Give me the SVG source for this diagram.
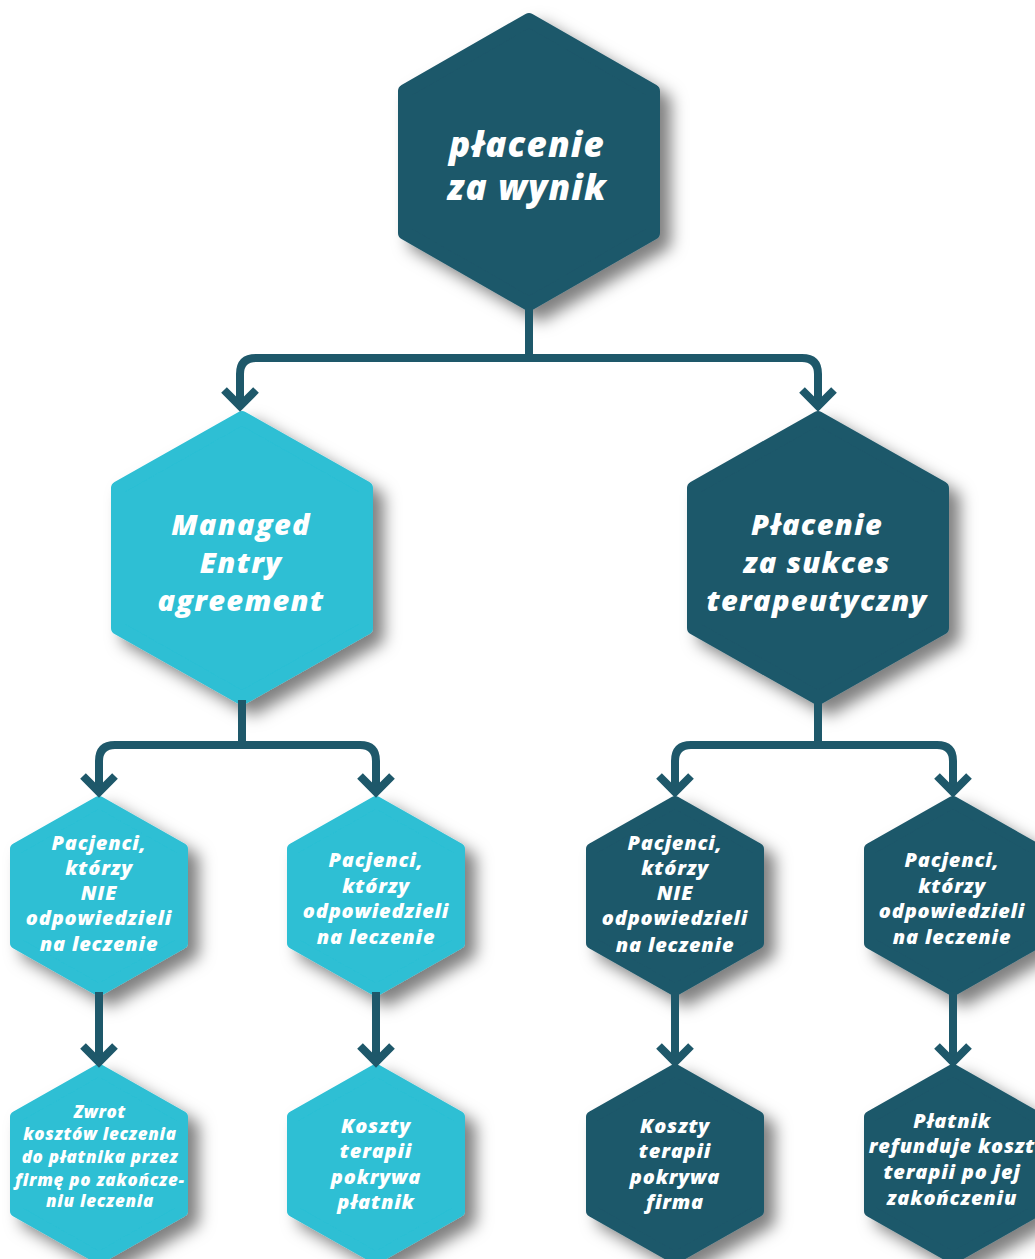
<svg xmlns="http://www.w3.org/2000/svg" width="1035" height="1259" viewBox="0 0 1035 1259">
<defs>
<filter id="sh" x="-20%" y="-20%" width="150%" height="150%">
<feDropShadow dx="11" dy="10" stdDeviation="8" flood-color="#000" flood-opacity="0.5"/>
</filter>
<style>
.dark{fill:#1e586a;stroke:#1e586a;stroke-width:14;stroke-linejoin:round;filter:url(#sh)}
.light{fill:#2dbfd4;stroke:#2dbfd4;stroke-width:14;stroke-linejoin:round;filter:url(#sh)}
.sm{stroke-width:12}
.t{fill:#fff;font-family:"Open Sans","DejaVu Sans",sans-serif;font-weight:800;font-style:italic;text-anchor:middle}
.t1{font-size:35px;letter-spacing:1.2px}
.t2{font-size:29px;letter-spacing:1.3px}
.t3{font-size:20px;letter-spacing:0.8px}
.t4{font-size:17px;letter-spacing:0.7px}
.c{fill:none;stroke:#1e586a;stroke-width:8}
.ar{fill:none;stroke:#1e586a;stroke-width:8;stroke-linejoin:miter}
</style>
</defs>
<rect width="1035" height="1259" fill="#fff"/>
<g id="n-top">
<polygon class="dark" points="529,20 653,91 653,233 529,304 405,233 405,91"/>
<text class="t t1" x="527" y="157">płacenie</text>
<text class="t t1" x="527" y="200">za wynik</text>
</g>
<g id="n-mea">
<polygon class="light" points="242,418 366,488 366,628 242,698 118,628 118,488"/>
<text class="t t2" x="241" y="535">Managed</text>
<text class="t t2" x="241" y="573">Entry</text>
<text class="t t2" x="241" y="611">agreement</text>
</g>
<g id="n-sukces">
<polygon class="dark" points="818,418 942,488 942,628 818,698 694,628 694,488"/>
<text class="t t2" x="817" y="535">Płacenie</text>
<text class="t t2" x="817" y="573">za sukces</text>
<text class="t t2" x="817" y="611">terapeutyczny</text>
</g>
<g id="n-l1">
<polygon class="light sm" points="99,802 182,849 182,943 99,990 16,943 16,849"/>
<text class="t t3" x="99" y="850">Pacjenci,</text>
<text class="t t3" x="99" y="875">którzy</text>
<text class="t t3" x="99" y="900">NIE</text>
<text class="t t3" x="99" y="925">odpowiedzieli</text>
<text class="t t3" x="99" y="951">na leczenie</text>
</g>
<g id="n-l2">
<polygon class="light sm" points="376,802 459,849 459,943 376,990 293,943 293,849"/>
<text class="t t3" x="376" y="867">Pacjenci,</text>
<text class="t t3" x="376" y="893">którzy</text>
<text class="t t3" x="376" y="918">odpowiedzieli</text>
<text class="t t3" x="376" y="944">na leczenie</text>
</g>
<g id="n-r1">
<polygon class="dark sm" points="675,802 758,849 758,943 675,990 592,943 592,849"/>
<text class="t t3" x="675" y="850">Pacjenci,</text>
<text class="t t3" x="675" y="875">którzy</text>
<text class="t t3" x="675" y="900">NIE</text>
<text class="t t3" x="675" y="925">odpowiedzieli</text>
<text class="t t3" x="675" y="952">na leczenie</text>
</g>
<g id="n-r2">
<polygon class="dark sm" points="953,802 1036,849 1036,943 953,990 870,943 870,849"/>
<text class="t t3" x="952" y="867">Pacjenci,</text>
<text class="t t3" x="952" y="893">którzy</text>
<text class="t t3" x="952" y="918">odpowiedzieli</text>
<text class="t t3" x="952" y="944">na leczenie</text>
</g>
<g id="n-b1">
<polygon class="light sm" points="99,1070 182,1117 182,1211 99,1258 16,1211 16,1117"/>
<text class="t t4" x="100" y="1118">Zwrot</text>
<text class="t t4" x="100" y="1140">kosztów leczenia</text>
<text class="t t4" x="100" y="1163">do płatnika przez</text>
<text class="t t4" x="100" y="1186">firmę po zakończe-</text>
<text class="t t4" x="100" y="1207">niu leczenia</text>
</g>
<g id="n-b2">
<polygon class="light sm" points="376,1070 459,1117 459,1211 376,1258 293,1211 293,1117"/>
<text class="t t3" x="376" y="1133">Koszty</text>
<text class="t t3" x="376" y="1158">terapii</text>
<text class="t t3" x="376" y="1184">pokrywa</text>
<text class="t t3" x="376" y="1209">płatnik</text>
</g>
<g id="n-b3">
<polygon class="dark sm" points="675,1070 758,1117 758,1211 675,1258 592,1211 592,1117"/>
<text class="t t3" x="675" y="1133">Koszty</text>
<text class="t t3" x="675" y="1158">terapii</text>
<text class="t t3" x="675" y="1184">pokrywa</text>
<text class="t t3" x="675" y="1209">firma</text>
</g>
<g id="n-b4">
<polygon class="dark sm" points="953,1070 1036,1117 1036,1211 953,1258 870,1211 870,1117"/>
<text class="t t3" x="952" y="1128">Płatnik</text>
<text class="t t3" x="952" y="1153">refunduje koszt</text>
<text class="t t3" x="952" y="1179">terapii po jej</text>
<text class="t t3" x="952" y="1205">zakończeniu</text>
</g>
<g id="connectors">
<path class="c" d="M529,308 V358 M240,402 V374 Q240,358 256,358 H802 Q818,358 818,374 V402"/>
<path class="ar" d="M224,390 L240,406 L256,390 M802,390 L818,406 L834,390"/>
<path class="c" d="M242,700 V745 M99,788 V761 Q99,745 115,745 H360 Q376,745 376,761 V788"/>
<path class="c" d="M818,700 V745 M675,788 V761 Q675,745 691,745 H937 Q953,745 953,761 V788"/>
<path class="ar" d="M83,776 L99,792 L115,776 M360,776 L376,792 L392,776 M659,776 L675,792 L691,776 M937,776 L953,792 L969,776"/>
<path class="c" d="M99,992 V1058 M376,992 V1058 M675,992 V1058 M953,992 V1058"/>
<path class="ar" d="M83,1046 L99,1062 L115,1046 M360,1046 L376,1062 L392,1046 M659,1046 L675,1062 L691,1046 M937,1046 L953,1062 L969,1046"/>
</g>
</svg>
